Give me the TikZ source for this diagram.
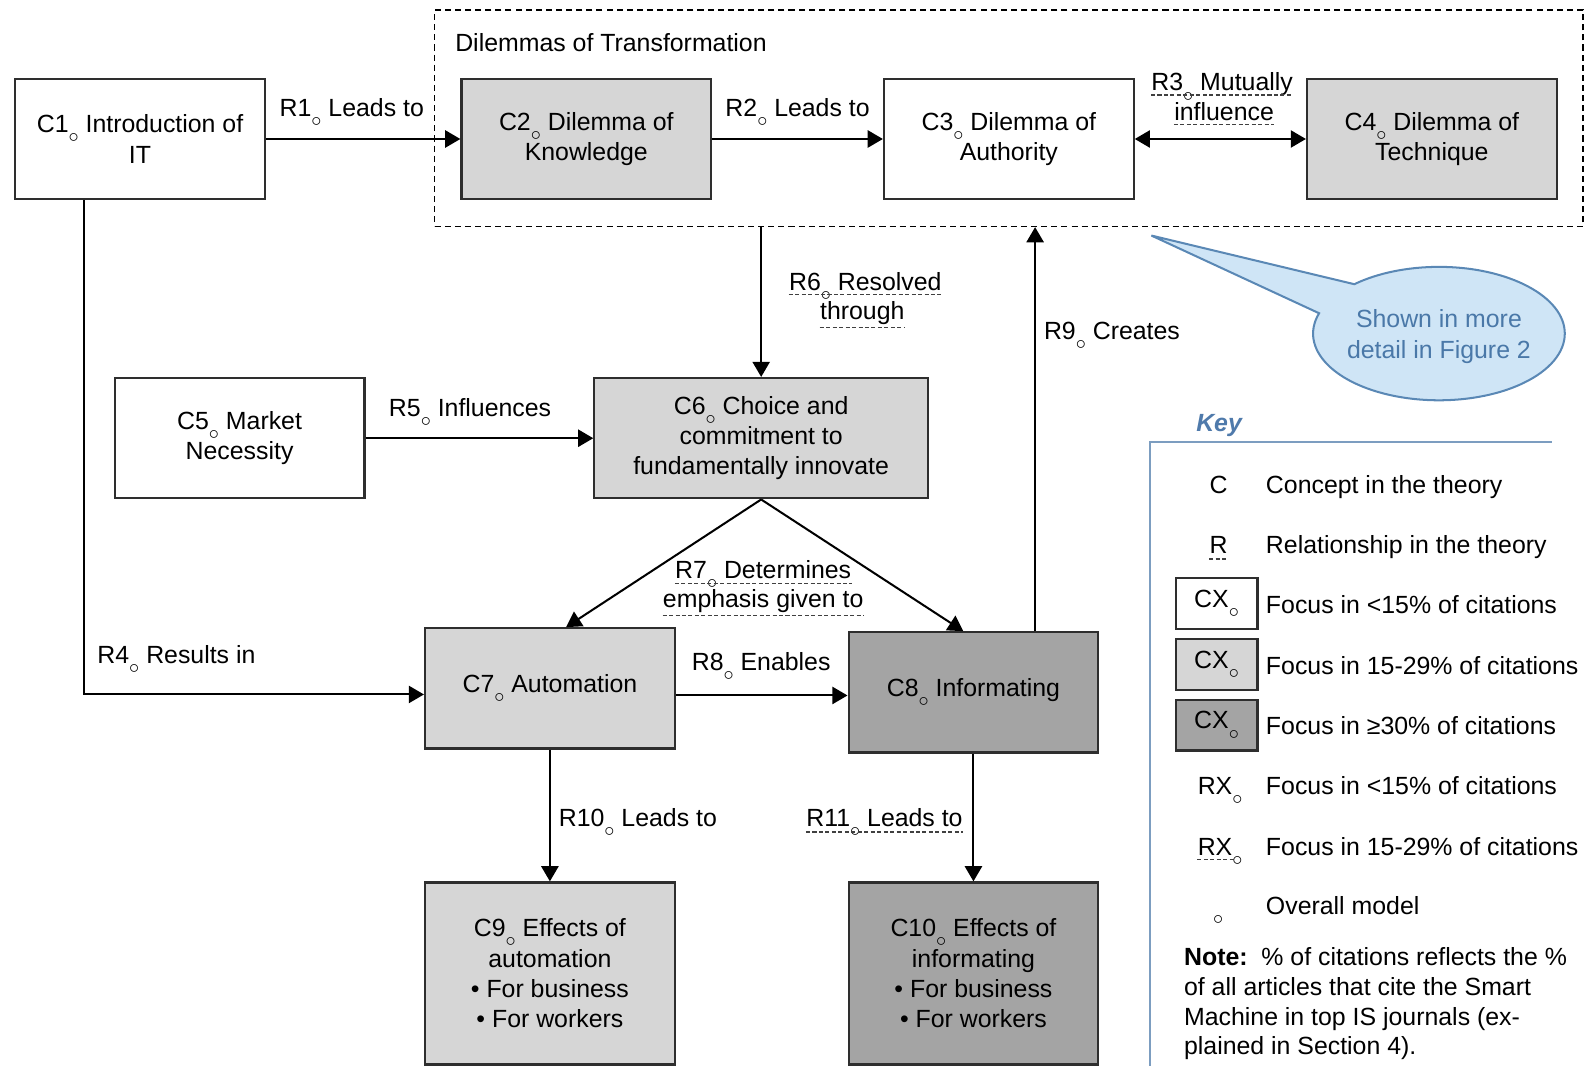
\documentclass[tikz,border=0pt]{standalone}
\usepackage{fontspec}
\setmainfont{Liberation Sans}
\usetikzlibrary{arrows.meta,shapes.callouts,shapes.geometric}
\definecolor{boxlight}{HTML}{D6D6D6}
\definecolor{boxdark}{HTML}{A4A4A4}
\definecolor{bordercol}{HTML}{2E2E2E}
\definecolor{callfill}{HTML}{CFE5F6}
\definecolor{callline}{HTML}{5A88B5}
\definecolor{calltext}{HTML}{4A78A8}
\definecolor{keyblue}{HTML}{4F7AAB}
\definecolor{keyline}{HTML}{7C9DC0}
\newcommand{\oc}{\raisebox{-5pt}{\fontsize{10}{10}\selectfont$\circ$}}
\tikzset{
  cbox/.style={draw=bordercol, line width=1.1pt, align=center, inner sep=2pt,
    minimum width=123.5pt, minimum height=59.5pt},
  lbl/.style={inner sep=0pt, anchor=base},
  arr/.style={line width=1pt, draw=black, -{Triangle[length=7.5pt,width=8.5pt]}},
  darr/.style={line width=1pt, draw=black, {Triangle[length=7.5pt,width=8.5pt]}-{Triangle[length=7.5pt,width=8.5pt]}},
  uline/.style={dash pattern=on 2pt off 1.2pt, line width=0.6pt, draw=black!75},
  grpbox/.style={draw=black, line width=0.7pt, dash pattern=on 3pt off 2pt},
  keyframe/.style={draw=keyline, line width=1pt},
}
\begin{document}
\begin{tikzpicture}[x=0.5pt, y=-0.5pt, font=\fontsize{12.3}{15}\selectfont]
\path[use as bounding box] (0,0) rectangle (1568,1055);

% group of dilemmas
\node[grpbox, minimum width=568pt, minimum height=107pt] (grp) at (998,117) {};
\node[lbl, anchor=base west] (grptitle) at (450,51) {Dilemmas of Transformation};

% concept boxes
\node[cbox] (c1) at (138.5,137.5) {C1\oc\ Introduction of\\IT};
\node[cbox, fill=boxlight] (c2) at (580,137.5) {C2\oc\ Dilemma of\\Knowledge};
\node[cbox] (c3) at (998,137.5) {C3\oc\ Dilemma of\\Authority};
\node[cbox, fill=boxlight] (c4) at (1416.5,137.5) {C4\oc\ Dilemma of\\Technique};
\node[cbox] (c5) at (237,433.5) {C5\oc\ Market\\Necessity};
\node[cbox, fill=boxlight, minimum width=165pt] (c6) at (753,433.5) {C6\oc\ Choice and\\commitment to\\fundamentally innovate};
\node[cbox, fill=boxlight] (c7) at (544,681) {C7\oc\ Automation};
\node[cbox, fill=boxdark] (c8) at (963,685) {C8\oc\ Informating};
\node[cbox, fill=boxlight, minimum height=90pt] (c9) at (544,963) {C9\oc\ Effects of\\automation\\• For business\\• For workers};
\node[cbox, fill=boxdark, minimum height=90pt] (c10) at (963,963) {C10\oc\ Effects of\\informating\\• For business\\• For workers};

% relationships
\draw[arr] (c1.east) -- (c2.west);
\node[lbl] (r1) at (348,115) {R1\oc\ Leads to};
\draw[arr] (c2.east) -- (c3.west);
\node[lbl] (r2) at (789,115) {R2\oc\ Leads to};
\draw[darr] (c3.east) -- (c4.west);
\node[lbl] (r3a) at (1209,90) {R3\oc\ Mutually};
\node[lbl] (r3b) at (1211,119) {influence};
\draw[uline] ([yshift=-2pt]r3a.base west) -- ([yshift=-2pt]r3a.base east);
\draw[uline] ([yshift=-2pt]r3b.base west) -- ([yshift=-2pt]r3b.base east);

\coordinate (r4s) at ([xshift=-27.5pt]c1.south);
\coordinate (r4e) at ([yshift=-3pt]c7.west);
\draw[arr] (r4s) |- (r4e);
\node[lbl, anchor=base west] (r4) at (96,656) {R4\oc\ Results in};

\draw[arr] (c5.east) -- (c6.west);
\node[lbl] (r5) at (465,412) {R5\oc\ Influences};

\draw[arr] (grp.south -| c6.north) -- (c6.north);
\node[lbl] (r6a) at (856,287) {R6\oc\ Resolved};
\node[lbl] (r6b) at (853,316) {through};
\draw[uline] ([yshift=-2pt]r6a.base west) -- ([yshift=-2pt]r6a.base east);
\draw[uline] ([yshift=-4pt]r6b.base west) -- ([yshift=-4pt]r6b.base east);

\draw[arr] (c6.south) -- ([xshift=8pt]c7.north);
\draw[arr] (c6.south) -- ([xshift=-5pt]c8.north);
\node[lbl] (r7a) at (755,572) {R7\oc\ Determines};
\node[lbl] (r7b) at (755,601) {emphasis given to};
\draw[uline] ([yshift=-2.5pt]r7a.base west) -- ([yshift=-2.5pt]r7a.base east);
\draw[uline] ([yshift=-4pt]r7b.base west) -- ([yshift=-4pt]r7b.base east);

\coordinate (r8s) at ([yshift=-3.5pt]c7.east);
\draw[arr] (r8s) -- (r8s -| c8.west);
\node[lbl] (r8) at (753,663) {R8\oc\ Enables};

\coordinate (r9s) at ([xshift=30.5pt]c8.north);
\draw[arr] (r9s) -- (r9s |- grp.south);
\node[lbl] (r9) at (1100,336) {R9\oc\ Creates};

\draw[arr] (c7.south) -- (c9.north);
\node[lbl] (r10) at (631,818) {R10\oc\ Leads to};
\draw[arr] (c8.south) -- (c10.north);
\node[lbl] (r11) at (875,818) {R11\oc\ Leads to};
\draw[uline] ([yshift=-2.5pt]r11.base west) -- ([yshift=-2.5pt]r11.base east);

% callout
\node[ellipse callout, draw=callline, fill=callfill, line width=1pt, inner sep=0pt,
  minimum width=124.5pt, minimum height=66pt, callout pointer arc=30,
  callout absolute pointer={(1139,233)}] (callout) at (1423.5,330) {};
\node[text=calltext, align=center, inner sep=0pt] (calltxt) at ([yshift=-1.5pt]callout.center) {Shown in more\\detail in Figure 2};

% key
\node[lbl, text=keyblue, font=\fontsize{12.3}{15}\selectfont\bfseries\itshape] (keytitle) at (1206,427) {Key};
\draw[keyframe] (1535,437) -- (1138,437) -- (1138,1055);

\node[lbl] (kc) at (1205.5,488) {C};
\node[lbl, anchor=base west] (kct) at (1252,488) {Concept in the theory};
\node[lbl] (kr) at (1205.5,548) {R};
\draw[uline] ([yshift=-2.5pt]kr.base west) -- ([yshift=-2.5pt]kr.base east);
\node[lbl, anchor=base west] (krt) at (1252,548) {Relationship in the theory};

\node[draw=bordercol, line width=1.1pt, minimum width=40.5pt, minimum height=25pt, inner sep=0pt] (kb1) at (1203.5,597) {CX\oc};
\node[lbl, anchor=base west] (kb1t) at (1252,606.5) {Focus in <15\% of citations};
\node[draw=bordercol, fill=boxlight, line width=1.1pt, minimum width=40.5pt, minimum height=25pt, inner sep=0pt] (kb2) at (1203.5,657.5) {CX\oc};
\node[lbl, anchor=base west] (kb2t) at (1252,667) {Focus in 15-29\% of citations};
\node[draw=bordercol, fill=boxdark, line width=1.1pt, minimum width=40.5pt, minimum height=25pt, inner sep=0pt] (kb3) at (1203.5,717.5) {CX\oc};
\node[lbl, anchor=base west] (kb3t) at (1252,727) {Focus in ≥30\% of citations};

\node[lbl, anchor=base west] (krx1) at (1184.5,786) {RX\oc};
\node[lbl, anchor=base west] (krx1t) at (1252,786) {Focus in <15\% of citations};
\node[lbl, anchor=base west] (krx2) at (1184.5,846) {RX\oc};
\draw[uline] ([yshift=-2pt]krx2.base west) -- ([yshift=-2pt,xshift=-4pt]krx2.base east);
\node[lbl, anchor=base west] (krx2t) at (1252,846) {Focus in 15-29\% of citations};

\node[inner sep=0pt] (kov) at (1205,910.5) {\fontsize{10}{10}\selectfont$\circ$};
\node[lbl, anchor=base west] (kovt) at (1252,905) {Overall model};

\node[lbl, anchor=base west] (note1) at (1171,955) {\textbf{Note:}\ \ \% of citations reflects the \%};
\node[lbl, anchor=base west] (note2) at (1171,984.5) {of all articles that cite the Smart};
\node[lbl, anchor=base west] (note3) at (1171,1014) {Machine in top IS journals (ex-};
\node[lbl, anchor=base west] (note4) at (1171,1043.5) {plained in Section 4).};
\end{tikzpicture}
\end{document}
